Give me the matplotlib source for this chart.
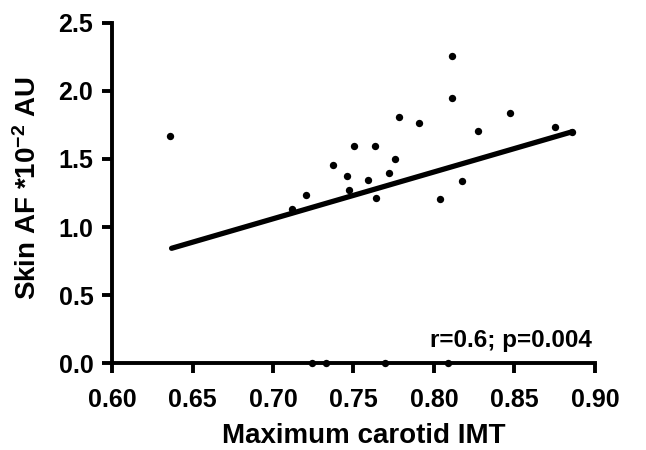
import matplotlib
matplotlib.use("Agg")
import matplotlib.pyplot as plt

# Data
imt = [0.636, 0.712, 0.7205, 0.7375, 0.746, 0.747, 0.7505, 0.759, 0.7634, 0.764,
       0.772, 0.776, 0.7785, 0.791, 0.804, 0.811, 0.811, 0.8173, 0.8275, 0.8474,
       0.8754, 0.886, 0.7242, 0.733, 0.7697, 0.8084]
skin_af = [1.667, 1.131, 1.238, 1.454, 1.375, 1.275, 1.598, 1.346, 1.598, 1.216,
           1.395, 1.498, 1.806, 1.767, 1.206, 2.258, 1.948, 1.339, 1.708, 1.836,
           1.737, 1.70, 0.0, 0.0, 0.0, 0.0]
fit_x = [0.637, 0.886]
fit_y = [0.844, 1.70]
xticks = [0.60, 0.65, 0.70, 0.75, 0.80, 0.85, 0.90]
yticks = [0.0, 0.5, 1.0, 1.5, 2.0, 2.5]
annotation = "r=0.6; p=0.004"

plt.rcParams['font.family'] = ['Liberation Sans', 'DejaVu Sans']
plt.rcParams['font.weight'] = 'bold'
plt.rcParams['mathtext.fontset'] = 'custom'
plt.rcParams['mathtext.rm'] = 'Liberation Sans:bold'
plt.rcParams['mathtext.bf'] = 'Liberation Sans:bold'
plt.rcParams['mathtext.it'] = 'Liberation Sans:bold'
plt.rcParams['mathtext.default'] = 'bf'

fig = plt.figure(figsize=(6.46, 4.50), dpi=100)
ax = fig.add_axes([0.1734, 0.1927, 0.921 - 0.1734, 0.9496 - 0.1927])

ax.scatter(imt, skin_af, s=28, color='black', zorder=3, clip_on=False, linewidths=0)
ax.plot(fit_x, fit_y, color='black', lw=3.8, solid_capstyle='round', zorder=2)

ax.set_xlim(0.60, 0.90)
ax.set_ylim(0.0, 2.5)
ax.set_xticks(xticks)
ax.set_xticklabels([f"{v:.2f}" for v in xticks])
ax.set_yticks(yticks)
ax.set_yticklabels([f"{v:.1f}" for v in yticks])

for s in ['top', 'right']:
    ax.spines[s].set_visible(False)
for s in ['left', 'bottom']:
    ax.spines[s].set_linewidth(2.8)
    ax.spines[s].set_capstyle('projecting')

ax.tick_params(axis='both', direction='out', length=7.5, width=2.8, labelsize=18)
ax.tick_params(axis='x', pad=10)
ax.tick_params(axis='y', pad=6)
for lbl in ax.get_xticklabels() + ax.get_yticklabels():
    lbl.set_fontweight('bold')

ax.set_xlabel("Maximum carotid IMT", fontsize=20, fontweight='bold')
ax.xaxis.set_label_coords(0.521, -0.175)
ax.set_ylabel(r"Skin AF *10$^{-2}$ AU", fontsize=20, fontweight='bold')
ax.yaxis.set_label_coords(-0.145, 0.515)

ax.text(0.898, 0.12, annotation, fontsize=17.5, fontweight='bold',
        ha='right', va='baseline', transform=ax.transData)

fig.savefig("out.png", dpi=100)
